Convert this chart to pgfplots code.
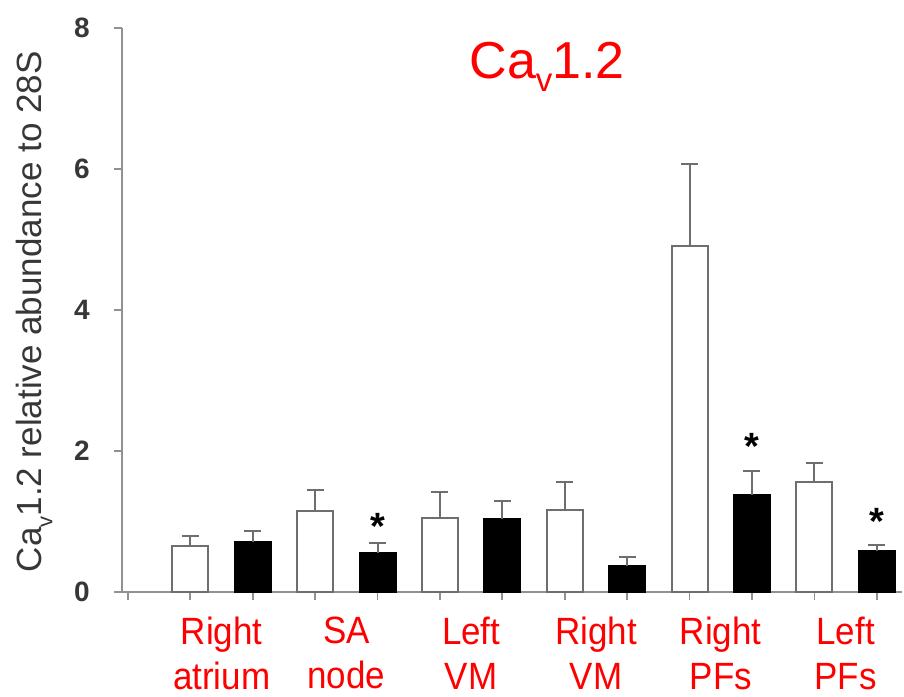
\documentclass[border=0pt]{standalone}
\usepackage{fontspec}
\setmainfont{Liberation Sans}
\newfontfamily\narrowfont[FakeStretch=0.92]{Liberation Sans}
\usepackage{pgfplots}
\pgfplotsset{compat=1.18}
\definecolor{axgray}{RGB}{145,145,145}
\definecolor{bargray}{RGB}{110,110,110}
\definecolor{txtgray}{RGB}{55,55,55}
\begin{document}
\begin{tikzpicture}
\path[use as bounding box] (-122pt,-104pt) rectangle (782pt,592pt);
\begin{axis}[
  scale only axis, width=780pt, height=564pt,
  xmin=-0.096, xmax=12.404, ymin=0, ymax=8,
  axis x line*=bottom, axis y line*=left,
  axis line style={axgray, line width=2.6pt},
  ytick={0,2,4,6,8},
  xtick={0,...,12}, xticklabels={},
  tick style={axgray, line width=1.8pt},
  tick align=outside,
  major tick length=8pt,
  /pgf/number format/assume math mode=true,
  yticklabel style={font=\bfseries\fontsize{28}{28}\selectfont, text=txtgray, inner sep=0pt, anchor=east, xshift=-24pt},
  extra x ticks={1.5,3.5,5.5,7.5,9.5,11.5},
  extra x tick labels={{Right\\atrium},{SA\\node},{Left\\VM},{Right\\VM},{Right\\PFs},{Left\\PFs}},
  extra x tick style={major tick length=0pt, xticklabel style={font=\narrowfont\fontsize{38}{45}\selectfont, text=red, align=center, anchor=north, inner sep=0pt, yshift=-25pt}},
  ylabel={Ca\raisebox{-0.3em}{\fontsize{22}{22}\selectfont v}1.2 relative abundance to 28S},
  ylabel style={font=\fontsize{35}{35}\selectfont, text=txtgray, at={(axis description cs:-0.1026,0.497)}, anchor=base, inner sep=0pt},
  title={Ca\raisebox{-13pt}{\fontsize{33}{33}\selectfont v}1.2},
  title style={at={(axis description cs:0.545,0.899)}, anchor=base, font=\fontsize{52}{52}\selectfont, text=red, inner sep=0pt},
]
\addplot[ybar, bar width=36pt, bar shift=0pt, fill=white, draw=bargray, line width=2pt,
  error bars/.cd, y dir=plus, y explicit,
  error bar style={bargray, line width=2pt},
  error mark options={bargray, line width=2pt, mark size=8.5pt, rotate=90}]
  table[x=x, y=y, y error=e] {
x y e
1 0.65 0.15
3 1.15 0.29
5 1.05 0.37
7 1.17 0.39
9 4.91 1.16
11 1.56 0.27
};
\addplot[ybar, bar width=36pt, bar shift=0pt, fill=black, draw=black, line width=2pt,
  error bars/.cd, y dir=plus, y explicit,
  error bar style={bargray, line width=2pt},
  error mark options={bargray, line width=2pt, mark size=8.5pt, rotate=90}]
  table[x=x, y=y, y error=e] {
x y e
2 0.71 0.15
4 0.56 0.14
6 1.04 0.25
8 0.37 0.12
10 1.38 0.33
12 0.58 0.09
};
\addplot[draw=none, mark=none, nodes near coords={*},
  every node near coord/.style={font=\bfseries\fontsize{38}{38}\selectfont, text=black, anchor=center, inner sep=0pt, yshift=-8pt}]
  coordinates {(4,1.05) (10,2.18) (12,1.12)};
\end{axis}
\end{tikzpicture}
\end{document}
